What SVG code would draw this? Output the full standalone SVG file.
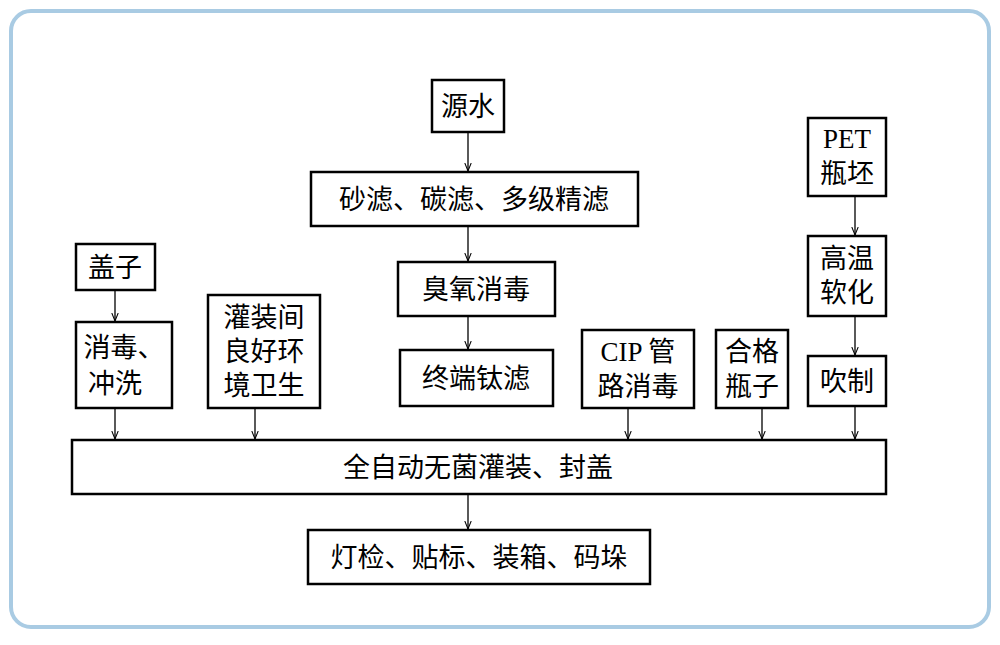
<svg xmlns="http://www.w3.org/2000/svg" width="1000" height="645" viewBox="0 0 1000 645">
<style>
.b{fill:#fff;stroke:#000;stroke-width:2.5}
.t{font-family:"Liberation Serif","Noto Sans CJK SC",serif;font-size:27px;fill:#000;text-anchor:middle}
.c line{stroke:#000;stroke-width:1.3;marker-end:url(#a)}
</style>
<defs><marker id="a" viewBox="0 0 10 10" refX="10" refY="5" markerWidth="8" markerHeight="8" orient="auto" markerUnits="userSpaceOnUse"><path d="M0,1 L10,5 L0,9" fill="none" stroke="#000" stroke-width="1.3"/></marker></defs>
<rect x="0" y="0" width="1000" height="645" fill="#fff"/>
<rect x="11" y="11" width="978" height="616" rx="20" fill="none" stroke="#a9cbe3" stroke-width="4"/>
<g id="n1"><rect class="b" x="432" y="80" width="72" height="52"/><text class="t" x="468" y="116">源水</text></g>
<g id="n2"><rect class="b" x="311" y="172" width="327" height="54"/><text class="t" x="474" y="209">砂滤、碳滤、多级精滤</text></g>
<g id="n3"><rect class="b" x="398" y="262" width="157" height="54"/><text class="t" x="476" y="299">臭氧消毒</text></g>
<g id="n4"><rect class="b" x="400" y="350" width="153" height="56"/><text class="t" x="476" y="388">终端钛滤</text></g>
<g id="n5"><rect class="b" x="76" y="244" width="79" height="46"/><text class="t" x="115" y="277">盖子</text></g>
<g id="n6"><rect class="b" x="76" y="322" width="96" height="86"/><text class="t" x="124" y="357">消毒、</text><text class="t" x="115" y="393">冲洗</text></g>
<g id="n7"><rect class="b" x="208" y="295" width="112" height="113"/><text class="t" x="264" y="327">灌装间</text><text class="t" x="264" y="361">良好环</text><text class="t" x="264" y="395">境卫生</text></g>
<g id="n8"><rect class="b" x="582" y="330" width="112" height="78"/><text class="t" x="638" y="361">CIP 管</text><text class="t" x="638" y="396">路消毒</text></g>
<g id="n9"><rect class="b" x="716" y="330" width="72" height="78"/><text class="t" x="752" y="361">合格</text><text class="t" x="752" y="396">瓶子</text></g>
<g id="n10"><rect class="b" x="808" y="118" width="78" height="78"/><text class="t" x="847" y="148">PET</text><text class="t" x="847" y="183">瓶坯</text></g>
<g id="n11"><rect class="b" x="808" y="236" width="78" height="80"/><text class="t" x="847" y="268">高温</text><text class="t" x="847" y="302">软化</text></g>
<g id="n12"><rect class="b" x="808" y="356" width="78" height="50"/><text class="t" x="847" y="391">吹制</text></g>
<g id="n13"><rect class="b" x="72" y="440" width="814" height="54"/><text class="t" x="478" y="477">全自动无菌灌装、封盖</text></g>
<g id="n14"><rect class="b" x="308" y="530" width="342" height="54"/><text class="t" x="479" y="567">灯检、贴标、装箱、码垛</text></g>
<g class="c">
<line x1="468" y1="132" x2="468" y2="171"/>
<line x1="468" y1="226" x2="468" y2="261"/>
<line x1="468" y1="316" x2="468" y2="349"/>
<line x1="468" y1="494" x2="468" y2="529"/>
<line x1="115" y1="290" x2="115" y2="321"/>
<line x1="115" y1="408" x2="115" y2="439"/>
<line x1="255" y1="408" x2="255" y2="439"/>
<line x1="628" y1="408" x2="628" y2="439"/>
<line x1="762" y1="408" x2="762" y2="439"/>
<line x1="855" y1="196" x2="855" y2="235"/>
<line x1="855" y1="316" x2="855" y2="355"/>
<line x1="855" y1="406" x2="855" y2="439"/>
</g>
</svg>
